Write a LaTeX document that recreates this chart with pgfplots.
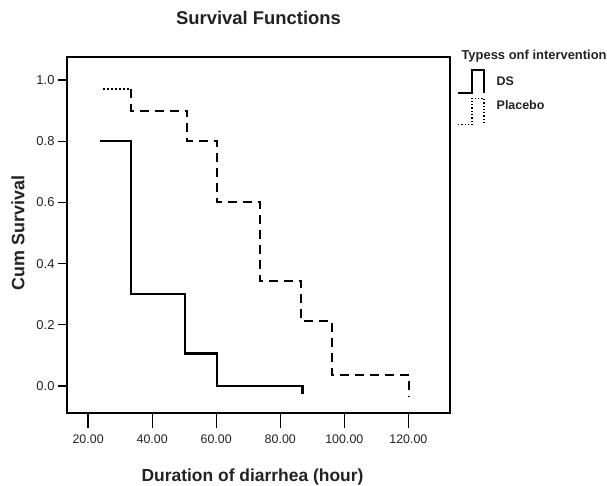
\documentclass[border=0pt]{standalone}
\usepackage{fontspec}
\setmainfont{Liberation Sans}
\usepackage{pgfplots}
\pgfplotsset{compat=1.18}
\definecolor{txt}{RGB}{34,34,34}
\pgfplotsset{
  dsleg/.style={legend image code/.code={\draw[##1] (0bp,-11bp) -- (14bp,-11bp) -- (14bp,12bp) -- (26bp,12bp) -- (26bp,-11bp);}},
  plleg/.style={legend image code/.code={\draw[##1] (0bp,-19bp) -- (14bp,-19bp) -- (14bp,7bp) -- (26bp,7bp) -- (26bp,-17bp);}},
}
\begin{document}
\begin{tikzpicture}
\path[use as bounding box] (-67bp,-73bp) rectangle (540bp,413bp);
\begin{axis}[
  at={(0,0)}, anchor=south west,
  scale only axis, width=383bp, height=356bp,
  xmin=13.4, xmax=133, ymin=-0.088, ymax=1.075,
  xtick={20,40,60,80,100,120},
  ytick={0,0.2,0.4,0.6,0.8,1.0},
  tick align=outside, tick pos=left,
  major tick length=9bp,
  xtick style={/pgfplots/major tick length=15bp},
  axis line style={line width=1.3bp},
  tick style={line width=1.3bp, black},
  /pgf/number format/assume math mode=true,
  tick label style={font=\fontsize{12.5}{14}\selectfont, text=txt},
  xticklabel style={/pgf/number format/.cd, fixed, fixed zerofill, precision=2, /tikz/.cd, yshift=-9bp},
  yticklabel style={/pgf/number format/.cd, fixed, fixed zerofill, precision=1, /tikz/.cd, font=\fontsize{13}{15}\selectfont},
  clip=false,
  title={Survival Functions},
  title style={at={(axis description cs:0.5,1)}, anchor=center, yshift=33bp,
    font=\bfseries\fontsize{18.5}{21}\selectfont, text=txt},
  xlabel={Duration of diarrhea (hour)},
  xlabel style={at={(axis description cs:0.5,0)}, anchor=center, yshift=-64bp, xshift=-6bp,
    font=\bfseries\fontsize{17.5}{20}\selectfont, text=txt},
  ylabel={Cum Survival},
  ylabel style={at={(axis description cs:0,0.5)}, anchor=center, yshift=49bp, xshift=2bp,
    font=\bfseries\fontsize{18}{21}\selectfont, text=txt},
  legend style={at={(axis description cs:1,1)}, anchor=north west, xshift=7bp, yshift=-12bp,
    draw=none, fill=none, inner sep=0pt, text=txt, column sep=10bp,
    font=\bfseries\fontsize{12.5}{14}\selectfont, row sep=4bp},
  legend cell align=left,
]
% legend entries
\addlegendimage{black, line width=1.5bp, dsleg}
\addlegendentry{DS}
\addlegendimage{black, dotted, line width=1.3bp, plleg}
\addlegendentry{Placebo}

% DS
\addplot[const plot, black, line width=2.4bp, forget plot] coordinates {
  (23.75,0.80) (33.4,0.30) (50.3,0.106) (60.3,0.0) (86.9,0.0) (86.9,-0.026)
};
% Placebo
\addplot[black, line width=2bp, dotted, forget plot] coordinates {
  (24.7,0.97) (33.4,0.97)
};
\addplot[const plot, black, line width=2bp, dash pattern=on 9bp off 6bp, forget plot] coordinates {
  (33.4,0.97) (33.4,0.90) (51.0,0.80) (60.3,0.60) (73.75,0.343) (86.6,0.212) (96.3,0.036) (120.3,0.036) (120.3,-0.036)
};

\node[anchor=west, font=\bfseries\fontsize{13}{15}\selectfont, text=txt]
  at (rel axis cs:1,1) [xshift=8bp, yshift=1bp] {Typess onf intervention};
\end{axis}
\end{tikzpicture}
\end{document}
